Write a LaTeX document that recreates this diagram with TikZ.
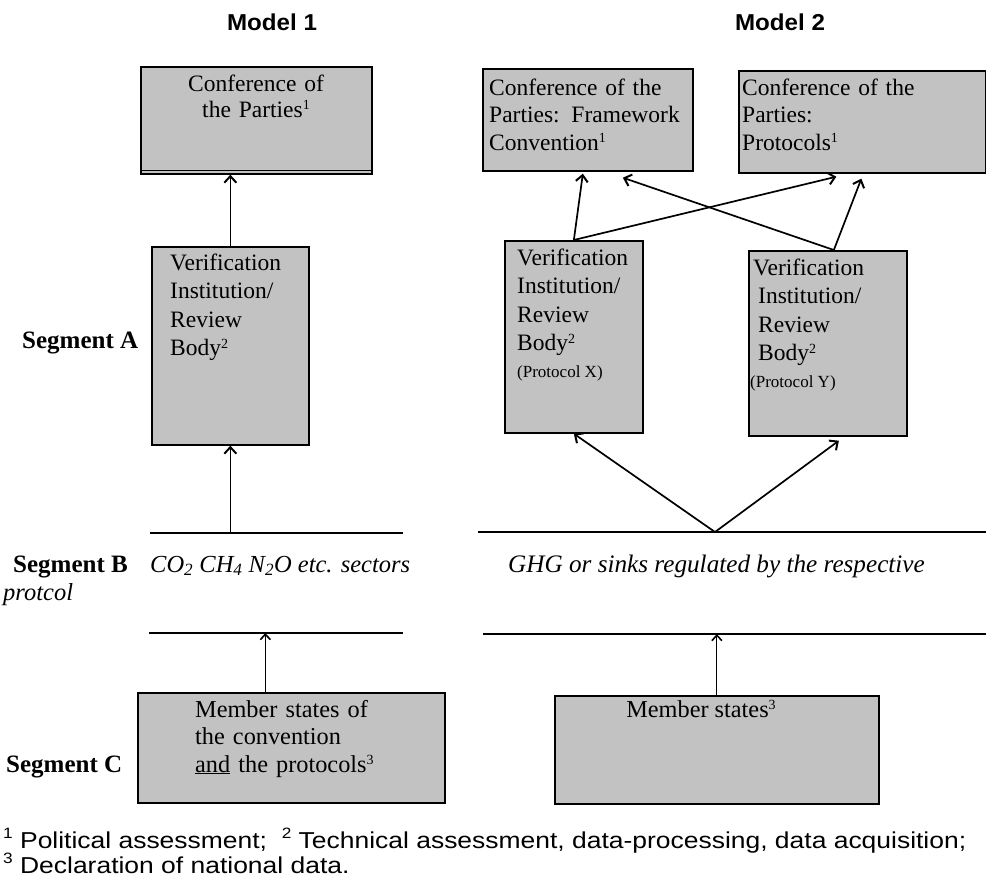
\documentclass[tikz,border=0pt]{standalone}
\usepackage{fontspec}
\setmainfont{Liberation Serif}
\setsansfont{Liberation Sans}
\newfontfamily\footfont[FakeStretch=1.15]{Liberation Sans}
\newfontfamily\modelfont[FakeStretch=1.05]{Liberation Sans}
\usetikzlibrary{arrows.meta,calc}
\definecolor{boxgray}{gray}{0.76}
\newcommand{\fsup}[1]{\raisebox{0.75ex}{\fontsize{15}{15}\selectfont #1}}
\newcommand{\bsup}[1]{\raisebox{0.65ex}{\fontsize{14}{14}\selectfont #1}}
\tikzset{
  box/.style={draw, line width=1.7pt, fill=boxgray, inner sep=0pt, anchor=north west},
  btxt/.style={inner sep=0pt, anchor=base west, align=left, font=\fontsize{23.5}{28.5}\selectfont},
  seglbl/.style={inner sep=0pt, anchor=base west, font=\fontsize{25}{29}\selectfont\bfseries},
  itlbl/.style={inner sep=0pt, anchor=base west, font=\fontsize{24.5}{29}\selectfont\itshape},
  hline/.style={line width=1.8pt},
  arr/.style={line width=1.7pt, -{Straight Barb[length=6.5pt,width=12pt,line width=2pt]}},
  tarr/.style={line width=1.2pt, -{Straight Barb[length=5.5pt,width=10pt,line width=1.6pt]}},
  foot/.style={inner sep=0pt, anchor=base west, font=\footfont\fontsize{23}{27}\selectfont},
  model/.style={inner sep=0pt, font=\modelfont\bfseries\fontsize{23}{27}\selectfont}
}
\begin{document}
\begin{tikzpicture}[x=1pt,y=-1pt]
\useasboundingbox (0,0) rectangle (986,879);
\fill[white] (0,0) rectangle (986,879);

% titles
\node[model] (m1) at (272,22) {Model 1};
\node[model] (m2) at (780,22) {Model 2};

% Model 1 boxes
\node[box, minimum width=231pt, minimum height=107pt] (cop1) at (140,66) {};
\draw[line width=1.2pt] ($(cop1.south west)+(0,-4)$) -- ($(cop1.south east)+(0,-4)$);
\node[inner sep=0pt, anchor=base, align=center, text width=220pt, font=\fontsize{23.5}{26}\selectfont] (cop1t) at (256,91) {Conference of\\the Parties\bsup{1}};

\node[box, minimum width=157pt, minimum height=198pt] (vir1) at (151,246) {};
\node[btxt, text width=130pt] (vir1t) at (170,270) {Verification\\Institution/\\Review\\Body\bsup{2}};

% Model 2 boxes
\node[box, minimum width=210pt, minimum height=102pt] (copfc) at (482,68) {};
\node[btxt, text width=205pt, font=\fontsize{23.5}{27.5}\selectfont] (copfct) at (489,95) {Conference of the\\Parties: Framework\\Convention\bsup{1}};

\node[box, minimum width=247pt, minimum height=102pt] (copp) at (738,70) {};
\node[btxt, text width=230pt, font=\fontsize{23.5}{27.5}\selectfont] (coppt) at (742,95) {Conference of the\\Parties:\\Protocols\bsup{1}};

\node[box, minimum width=138pt, minimum height=192pt] (virx) at (504,240) {};
\node[btxt, text width=125pt] (virxt) at (517,265) {Verification\\Institution/\\Review\\Body\bsup{2}};
\node[inner sep=0pt, anchor=base west, font=\fontsize{17}{20}\selectfont] (virxp) at (517,377) {(Protocol X)};

\node[box, minimum width=158pt, minimum height=185pt] (viry) at (748,250) {};
\node[btxt, text width=150pt] (viryt) at (753,275) {Verification\\\hspace*{5pt}Institution/\\\hspace*{5pt}Review\\\hspace*{5pt}Body\bsup{2}};
\node[inner sep=0pt, anchor=base west, font=\fontsize{17}{20}\selectfont] (viryp) at (750,387) {(Protocol Y)};

% Segment labels
\node[seglbl] (sa) at (22,348) {Segment A};
\node[seglbl] (sb) at (13,572) {Segment B};
\node[itlbl] (prot) at (3,600) {protcol};
\node[itlbl] (gas1) at (150,572) {CO\textsubscript{2} CH\textsubscript{4} N\textsubscript{2}O etc. sectors};
\node[itlbl, font=\fontsize{25.2}{29}\selectfont\itshape] (gas2) at (508,572) {GHG or sinks regulated by the respective};
\node[seglbl] (sc) at (6,772) {Segment C};

% Segment B lines
\coordinate (l1a) at (150,533); \coordinate (l1b) at (403,533);
\coordinate (l2a) at (478,532); \coordinate (l2b) at (986,532);
\coordinate (l3a) at (149,633); \coordinate (l3b) at (403,633);
\coordinate (l4a) at (483,634); \coordinate (l4b) at (986,634);
\draw[hline] (l1a) -- (l1b);
\draw[hline] (l2a) -- (l2b);
\draw[hline] (l3a) -- (l3b);
\draw[hline] (l4a) -- (l4b);
\coordinate (apex) at (715,532);

% Segment C boxes
\node[box, minimum width=307pt, minimum height=110pt] (ms1) at (137,692) {};
\node[btxt, text width=240pt, font=\fontsize{24.3}{27.5}\selectfont] (ms1t) at (195,717) {Member states of\\the convention\\\underline{and} the protocols\bsup{3}};
\node[box, minimum width=324pt, minimum height=108pt] (ms2) at (554,695) {};
\node[inner sep=0pt, anchor=base, font=\fontsize{24.3}{28}\selectfont] (ms2t) at (701,717) {Member states\bsup{3}};

% arrows Model 1
\draw[arr] (vir1.north) -- (vir1.north |- cop1.south);
\draw[arr] (vir1.south |- l1a) -- (vir1.south);
\draw[tarr] ($(ms1.north)+(-26,0)$) -- ($(ms1.north |- l3a)+(-26,0)$);

% arrows Model 2
\draw[arr] (virx.north) -- ($(copfc.south)+(-5,2)$);
\draw[arr] (virx.north) -- ($(copp.south)+(-26,3)$);
\draw[arr] ($(viry.north)+(6,0)$) -- ($(copfc.south)+(35,6)$);
\draw[arr] ($(viry.north)+(6,0)$) -- ($(copp.south)+(-1,5)$);
\draw[arr] (apex) -- (virx.south);
\draw[arr] (apex) -- ($(viry.south)+(11,4)$);
\draw[tarr] (ms2.north) -- (ms2.north |- l4a);

% footnotes
\node[foot] (f1) at (3,848) {\fsup{1} Political assessment;\ \ \fsup{2} Technical assessment, data-processing, data acquisition;};
\node[foot] (f2) at (3,873) {\fsup{3} Declaration of national data.};
\end{tikzpicture}
\end{document}
